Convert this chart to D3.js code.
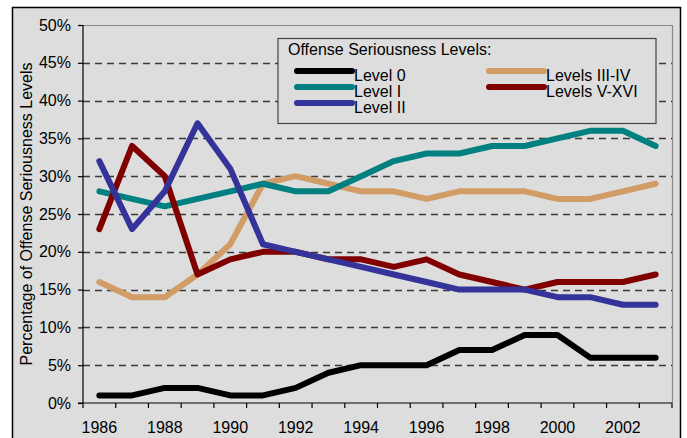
<!DOCTYPE html>
<html>
<head>
<meta charset="utf-8">
<script src="https://cdn.jsdelivr.net/npm/d3@7"></script>
<style>
  body { margin: 0; background: #fff; }
  svg text { font-family: "Liberation Sans", Arial, sans-serif; fill: #000; }
</style>
</head>
<body>
<div id="vis"></div>
<script>
// data
const years = d3.range(1986, 2004);
const level0 = [1, 1, 2, 2, 1, 1, 2, 4, 5, 5, 5, 7, 7, 9, 9, 6, 6, 6];
const level1 = [28, 27, 26, 27, 28, 29, 28, 28, 30, 32, 33, 33, 34, 34, 35, 36, 36, 34];
const level2 = [32, 23, 28, 37, 31, 21, 20, 19, 18, 17, 16, 15, 15, 15, 14, 14, 13, 13];
const level34 = [16, 14, 14, 17, 21, 29, 30, 29, 28, 28, 27, 28, 28, 28, 27, 27, 28, 29];
const level5 = [23, 34, 30, 17, 19, 20, 20, 19, 19, 18, 19, 17, 16, 15, 16, 16, 16, 17];
const yTicks = [0, 5, 10, 15, 20, 25, 30, 35, 40, 45, 50];
const xLabels = [1986, 1988, 1990, 1992, 1994, 1996, 1998, 2000, 2002];

const series = [
  { name: 'Level 0', values: level0, color: '#000000' },
  { name: 'Level I', values: level1, color: '#008080' },
  { name: 'Level II', values: level2, color: '#333399' },
  { name: 'Levels III-IV', values: level34, color: '#d19c66' },
  { name: 'Levels V-XVI', values: level5, color: '#800000' }
];
// drawing order (later on top)
const drawOrder = [0, 3, 1, 4, 2];

const W = 687, H = 438;
const plot = { left: 83, right: 672, top: 25, bottom: 403 };

const svg = d3.select('#vis')
  .append('svg')
  .attr('width', W)
  .attr('height', H);

// outer frame
svg.append('rect')
  .attr('x', 12.5).attr('y', 7.5)
  .attr('width', 668).attr('height', H + 20)
  .attr('fill', '#dddddd')
  .attr('stroke', '#000')
  .attr('stroke-width', 1.5);

// scales
const x = d3.scaleBand()
  .domain(years)
  .range([plot.left, plot.right])
  .padding(0);
const xc = d => x(d) + x.bandwidth() / 2;

const y = d3.scaleLinear()
  .domain([0, 50])
  .range([plot.bottom, plot.top]);

// plot border (top and right)
svg.append('path')
  .attr('d', `M${plot.left},${plot.top + 0.5}H${plot.right + 0.5}V${plot.bottom}`)
  .attr('fill', 'none')
  .attr('stroke', '#888')
  .attr('stroke-width', 1.2);

// dashed gridlines
svg.append('g')
  .selectAll('line')
  .data(yTicks.filter(t => t > 0 && t < 50))
  .join('line')
  .attr('x1', plot.left)
  .attr('x2', plot.right)
  .attr('y1', d => Math.round(y(d)) + 0.5)
  .attr('y2', d => Math.round(y(d)) + 0.5)
  .attr('stroke', '#3a3a3a')
  .attr('stroke-width', 1.4)
  .attr('stroke-dasharray', '7,5');

// y axis
const yAxis = d3.axisLeft(y)
  .tickValues(yTicks)
  .tickSize(5)
  .tickPadding(7)
  .tickFormat(d => d + '%');
const gy = svg.append('g')
  .attr('transform', `translate(${plot.left},0)`)
  .call(yAxis);
gy.selectAll('path, line').attr('stroke', '#000').attr('stroke-width', 1.2);
gy.select('.domain').attr('d', `M0,${plot.top}V${plot.bottom}`);
gy.selectAll('text').attr('font-size', 16).attr('font-family', '"Liberation Sans", Arial, sans-serif');

// x axis: ticks at band boundaries, labels every other year
const gx = svg.append('g');
gx.append('line')
  .attr('x1', plot.left - 5).attr('x2', plot.right)
  .attr('y1', plot.bottom).attr('y2', plot.bottom)
  .attr('stroke', '#000').attr('stroke-width', 1.2);
gx.selectAll('.tk')
  .data(years.concat([null]))
  .join('line')
  .attr('class', 'tk')
  .attr('x1', d => d === null ? plot.right : x(d))
  .attr('x2', d => d === null ? plot.right : x(d))
  .attr('y1', plot.bottom)
  .attr('y2', plot.bottom + 5)
  .attr('stroke', '#000').attr('stroke-width', 1.2);
gx.selectAll('text')
  .data(xLabels)
  .join('text')
  .attr('x', d => xc(d))
  .attr('y', 433)
  .attr('text-anchor', 'middle')
  .attr('font-size', 16)
  .text(d => d);

// y axis title
svg.append('text')
  .attr('transform', `translate(32,${(plot.top + plot.bottom) / 2}) rotate(-90)`)
  .attr('text-anchor', 'middle')
  .attr('font-size', 16)
  .text('Percentage of Offense Seriousness Levels');

// lines
const line = d3.line()
  .x((d, i) => xc(years[i]))
  .y(d => y(d));

svg.append('g')
  .selectAll('path')
  .data(drawOrder.map(i => series[i]))
  .join('path')
  .attr('d', d => line(d.values))
  .attr('fill', 'none')
  .attr('stroke', d => d.color)
  .attr('stroke-width', 6)
  .attr('stroke-linejoin', 'round')
  .attr('stroke-linecap', 'round');

// legend
const legend = svg.append('g');
legend.append('rect')
  .attr('x', 278).attr('y', 38.5)
  .attr('width', 378).attr('height', 85)
  .attr('fill', '#dddddd')
  .attr('stroke', '#444')
  .attr('stroke-width', 1.2);
legend.append('text')
  .attr('x', 288).attr('y', 55)
  .attr('font-size', 16)
  .text('Offense Seriousness Levels:');

const legendPos = [
  { x: 297, y: 71 },
  { x: 297, y: 87 },
  { x: 297, y: 103 },
  { x: 489, y: 71 },
  { x: 489, y: 87 }
];
const items = legend.selectAll('.item')
  .data(series)
  .join('g')
  .attr('class', 'item')
  .attr('transform', (d, i) => `translate(${legendPos[i].x},${legendPos[i].y})`);
items.append('line')
  .attr('x1', 0).attr('x2', 55)
  .attr('stroke', d => d.color)
  .attr('stroke-width', 6)
  .attr('stroke-linecap', 'round');
items.append('text')
  .attr('x', 57).attr('y', 10)
  .attr('font-size', 16)
  .text(d => d.name);
</script>
</body>
</html>
